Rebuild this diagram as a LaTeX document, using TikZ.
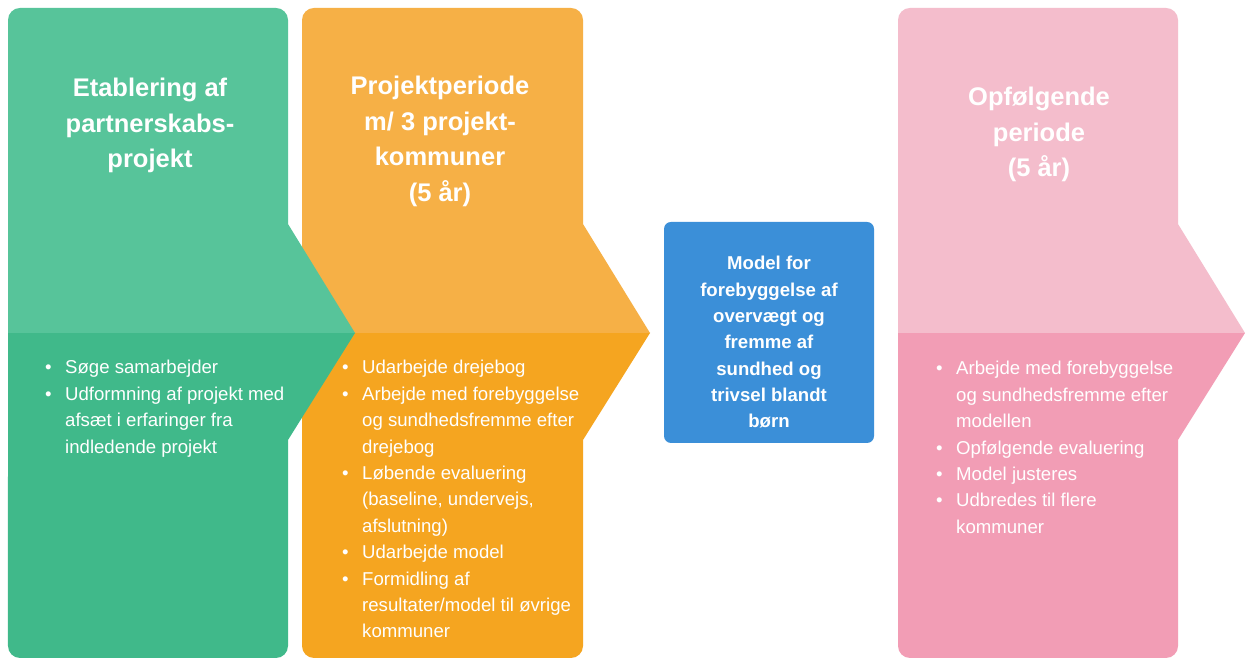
\documentclass[tikz,border=0pt]{standalone}
\usepackage{fontspec}
\setmainfont{Liberation Sans}
\definecolor{greenTop}{HTML}{57C49A}
\definecolor{greenBot}{HTML}{40B98A}
\definecolor{orangeTop}{HTML}{F6B046}
\definecolor{orangeBot}{HTML}{F5A520}
\definecolor{blueBox}{HTML}{3B8FD8}
\definecolor{pinkTop}{HTML}{F4BDCC}
\definecolor{pinkBot}{HTML}{F29DB5}
% centred lines hanging from the baseline of the first one
\newcommand\lines[1]{\begin{tabular}[t]{@{}c@{}}#1\end{tabular}}
% bullet list block hanging from its first baseline
\newcommand\blist[1]{\vtop{\hsize=270bp\parindent=0pt\raggedright#1}}
% bullet item with hanging indent
\newcommand\bulitem{\par\hangindent=21bp\hangafter=1\noindent\makebox[21bp][l]{\hspace{1bp}•}}
% chevron column: #1 left, #2 right, #3 tip x, #4 top colour, #5 bottom colour
\newcommand\chevron[5]{%
  \fill[#5] (#1,326) -- (#3,326) -- (#2,219) -- (#2,13)
    arc[start angle=0,end angle=-90,radius=12bp] -- (#1+12,1)
    arc[start angle=270,end angle=180,radius=12bp] -- cycle;
  \fill[#4] (#1,326) -- (#1,639)
    arc[start angle=180,end angle=90,radius=12bp] -- (#2-12,651)
    arc[start angle=90,end angle=0,radius=12bp] -- (#2,435) -- (#3,326) -- cycle;
}
\begin{document}
\begin{tikzpicture}[x=1bp,y=1bp,
  title/.style={text=white,font=\fontsize{25.5bp}{35.5bp}\selectfont\bfseries,
    inner sep=0pt,anchor=base},
  body/.style={text=white,font=\fontsize{18.6bp}{26.4bp}\selectfont,
    inner sep=0pt,anchor=base west},
  boxtext/.style={text=white,font=\fontsize{18.6bp}{26.3bp}\selectfont\bfseries,
    inner sep=0pt,anchor=base}]
\useasboundingbox (0,0) rectangle (1245,659);
\fill[white] (0,0) rectangle (1245,659);

% columns (green drawn last so its tip overlaps the orange one)
\chevron{898}{1178}{1245}{pinkTop}{pinkBot}
\chevron{302}{583}{650}{orangeTop}{orangeBot}
\chevron{8}{288}{355}{greenTop}{greenBot}

% central model box
\fill[blueBox,rounded corners=7bp] (664,216) rectangle (874,437);

% titles
\node[title] (t1) at (150,562) {\lines{Etablering af\\partnerskabs-\\projekt}};
\node[title] (t2) at (440,564) {\lines{Projektperiode\\m/ 3 projekt-\\kommuner\\(5 år)}};
\node[title] (t3) at (1039,553) {\lines{Opfølgende\\periode\\(5 år)}};

% central text
\node[boxtext] (m) at (769,389) {\lines{Model for\\forebyggelse af\\overvægt og\\fremme af\\sundhed og\\trivsel blandt\\børn}};

% activity lists
\node[body] (b1) at (44,285) {\blist{\bulitem Søge samarbejder
  \bulitem Udformning af projekt med\newline afsæt i erfaringer fra\newline indledende projekt}};
\node[body] (b2) at (341,285) {\blist{\bulitem Udarbejde drejebog
  \bulitem Arbejde med forebyggelse\newline og sundhedsfremme efter\newline drejebog
  \bulitem Løbende evaluering\newline (baseline, undervejs,\newline afslutning)
  \bulitem Udarbejde model
  \bulitem Formidling af\newline resultater/model til øvrige\newline kommuner}};
\node[body] (b3) at (935,284) {\blist{\bulitem Arbejde med forebyggelse\newline og sundhedsfremme efter\newline modellen
  \bulitem Opfølgende evaluering
  \bulitem Model justeres
  \bulitem Udbredes til flere\newline kommuner}};
\end{tikzpicture}
\end{document}
